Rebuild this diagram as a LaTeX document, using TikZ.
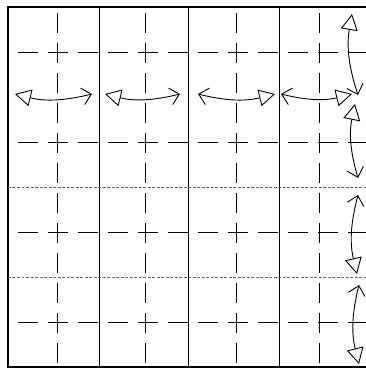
\documentclass[tikz,border=0pt]{standalone}
\usetikzlibrary{arrows.meta}
\tikzset{
    foldframe/.style={line width=1.3pt},
    foldsolid/.style={line width=1pt},
    folddash/.style={line width=1pt, dash pattern=on 20pt off 10pt},
    folddot/.style={line width=0.6pt, black!60, dash pattern=on 3pt off 1.5pt},
    tri/.tip={Triangle[open, length=16pt, width=17pt]},
    chev/.tip={Straight Barb[length=9pt, width=17pt]},
    foldarrow/.style={line width=0.9pt, bend right=14}
}
\begin{document}
\begin{tikzpicture}[x=1pt, y=-1pt]
  \useasboundingbox (0,0) rectangle (366,368);
  % paper edge
  \draw[foldframe] (366,7) -- (8,7) -- (8,367) -- (366,367);
  % valley and mountain creases
  \foreach \x in {100,189,280}
    \draw[foldsolid] (\x,7) -- (\x,367);
  \foreach \x in {58,146,237,320}
    \draw[folddash, dash phase=24.5pt] (\x,7) -- (\x,367);
  \foreach \y in {52,142,232,322}
    \draw[folddash, dash phase=19.5pt] (8,\y) -- (366,\y);
  \foreach \y in {187,277}
    \draw[folddot] (8,\y) -- (366,\y);
  % arrow ends
  \foreach \n/\xa/\xb in {1/15/92, 2/105/180, 3/198/275, 4/281/352} {
    \coordinate (h\n w) at (\xa,94);
    \coordinate (h\n e) at (\xb,94);
  }
  \foreach \n/\xa/\ya/\xb/\yb in {1/352/14/358/95, 2/355/104/358/178,
                                  3/358/195/357/274, 4/359/285/359/364} {
    \coordinate (v\n n) at (\xa,\ya);
    \coordinate (v\n s) at (\xb,\yb);
  }
  % horizontal swings
  \draw[foldarrow, tri-chev] (h1w) to (h1e);
  \draw[foldarrow, tri-chev] (h2w) to (h2e);
  \draw[foldarrow, chev-tri] (h3w) to (h3e);
  \draw[foldarrow, chev-tri] (h4w) to (h4e);
  % vertical swings
  \draw[foldarrow, tri-chev] (v1n) to (v1s);
  \draw[foldarrow, tri-chev] (v2n) to (v2s);
  \draw[foldarrow, chev-tri] (v3n) to (v3s);
  \draw[foldarrow, chev-tri] (v4n) to (v4s);
\end{tikzpicture}
\end{document}
